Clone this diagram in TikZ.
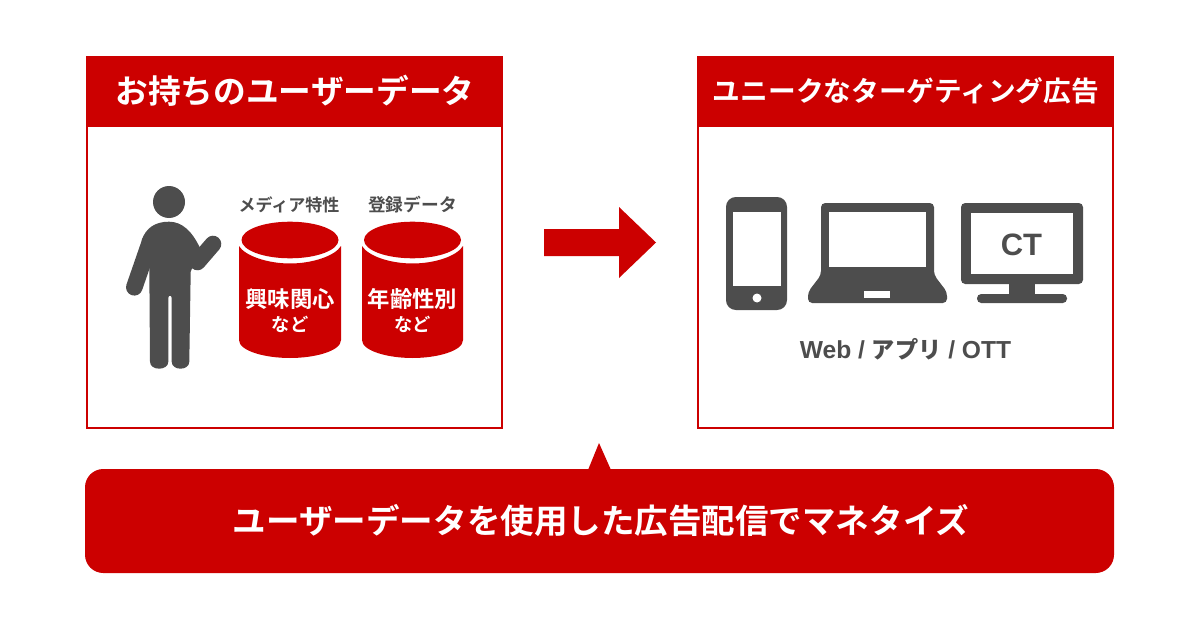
\documentclass[tikz,border=0pt]{standalone}
\usepackage{fontspec}
\setmainfont{Liberation Sans}
\newfontfamily\jpbold{Noto Sans CJK JP Bold}
\definecolor{adred}{HTML}{CC0000}
\definecolor{icongray}{HTML}{4D4D4D}
\tikzset{
  headtext/.style={text=white, inner sep=0pt, font=\jpbold\fontsize{23.25}{24}\selectfont},
  sidetext/.style={text=icongray, inner sep=0pt, font=\jpbold\fontsize{12.1}{13}\selectfont},
  cantext/.style={text=white, inner sep=0pt, font=\jpbold\fontsize{15.9}{16}\selectfont},
  cansub/.style={text=white, inner sep=0pt, font=\jpbold\fontsize{13}{13}\selectfont},
  latintext/.style={text=icongray, inner sep=0pt, font=\bfseries\fontsize{17.5}{18}\selectfont},
}
\begin{document}
\begin{tikzpicture}[x=0.025cm, y=-0.025cm]
\useasboundingbox (0, 0) rectangle (1200, 630);
\draw[adred, line width=1.42pt] (87, 57) rectangle (502, 428); % UserBox
\fill[adred] (86, 56) rectangle (503, 127); % UserHead
\node[headtext] (userhead) at (295, 90.5) {お持ちのユーザーデータ};
\draw[adred, line width=1.42pt] (698, 57) rectangle (1113, 428); % AdBox
\fill[adred] (697, 56) rectangle (1114, 127); % AdHead
\node[headtext, font=\jpbold\fontsize{19.7}{20}\selectfont] (adhead) at (906, 90.5) {ユニークなターゲティング広告};
% person
\fill[icongray] (169, 202) circle (16); % Head
\fill[icongray] (169, 221.7) .. controls (182, 221.7) and (192, 231) .. (200, 248) -- (190.7, 271.7) -- (189.3, 361.7) .. controls (189.3, 371) and (171.7, 371) .. (171.7, 361.7) -- (171.7, 298) .. controls (171.7, 295) and (168.3, 295) .. (168.3, 298) -- (168.3, 361.7) .. controls (168.3, 371) and (150, 371) .. (150, 361.7) -- (149.3, 266.7) -- (141.7, 240) .. controls (146, 228) and (155, 221.7) .. (169, 221.7) -- cycle; % Body
\draw[icongray, line width=11.8pt, line cap=round] (150, 242) -- (134.3, 287.3); % ArmLeft
\draw[icongray, line width=11.8pt, line cap=round] (197.5, 262) -- (213, 244); % ArmRight
% cylinders
\fill[adred] (290, 240) ellipse (48.5 and 18.3); % CanTop.0
\fill[adred] (239, 246) -- (239, 340) .. controls (239, 351) and (265, 358) .. (290, 358) .. controls (315, 358) and (341, 351) .. (341, 340) -- (341, 246) .. controls (335, 256) and (312, 263.5) .. (290, 263.5) .. controls (268, 263.5) and (245, 256) .. (239, 246) -- cycle; % Can.0
\fill[adred] (412.5, 240) ellipse (48.5 and 18.3); % CanTop.1
\fill[adred] (362, 246) -- (362, 340) .. controls (362, 351) and (388, 358) .. (412.5, 358) .. controls (437, 358) and (463, 351) .. (463, 340) -- (463, 246) .. controls (457, 256) and (435, 263.5) .. (412.5, 263.5) .. controls (390, 263.5) and (368, 256) .. (362, 246) -- cycle; % Can.1
\node[sidetext] (medialabel) at (289, 205) {メディア特性};
\node[sidetext, font=\jpbold\fontsize{12.6}{13}\selectfont] (reglabel) at (412.5, 205) {登録データ};
\node[cantext] (interest) at (290, 299) {興味関心};
\node[cansub] (interestsub) at (290, 324.5) {など};
\node[cantext] (agesex) at (412.5, 299) {年齢性別};
\node[cansub] (agesexsub) at (412.5, 324.5) {など};
% arrow
\fill[adred] (544, 229) -- (619, 229) -- (619, 207) -- (656, 242.5) -- (619, 278) -- (619, 256) -- (544, 256) -- cycle; % Arrow
% phone
\fill[icongray, rounded corners=7pt] (726, 197) rectangle (787, 310); % Phone
\fill[white] (733, 212) rectangle (781, 286); % PhoneScreen
\fill[white] (757, 298) circle (4.5); % PhoneButton
% laptop
\fill[icongray, rounded corners=3pt] (821, 203) -- (934, 203) -- (934, 275) -- (947, 292) -- (947, 303) -- (808, 303) -- (808, 292) -- (821, 275) -- cycle; % Laptop
\fill[white] (829, 212) rectangle (926, 267); % LaptopScreen
\fill[white] (864, 291) rectangle (890, 298); % LaptopSlot
% monitor
\fill[icongray, rounded corners=3pt] (961, 203) rectangle (1083, 284); % Monitor
\fill[white] (971, 213) rectangle (1073, 274); % MonitorScreen
\fill[icongray] (1009, 280) rectangle (1035, 298); % MonitorStand
\fill[icongray, rounded corners=3pt] (977, 294) rectangle (1067, 303); % MonitorBase
\node[latintext, font=\bfseries\fontsize{22}{23}\selectfont] (ctlabel) at (1021.5, 245) {CT};
\node[latintext] (devices) at (905.5, 349) {Web / {\jpbold\fontsize{16.5}{18}\selectfont アプリ} / OTT};
% banner
\fill[adred] (588, 470) -- (599, 443) -- (611, 470) -- cycle; % BannerTip
\fill[adred, rounded corners=13pt] (85, 469) rectangle (1114, 573); % Banner
\node[headtext, font=\jpbold\fontsize{23.85}{24}\selectfont] (bannertext) at (601, 520.5) {ユーザーデータを使用した広告配信でマネタイズ};
\end{tikzpicture}
\end{document}
